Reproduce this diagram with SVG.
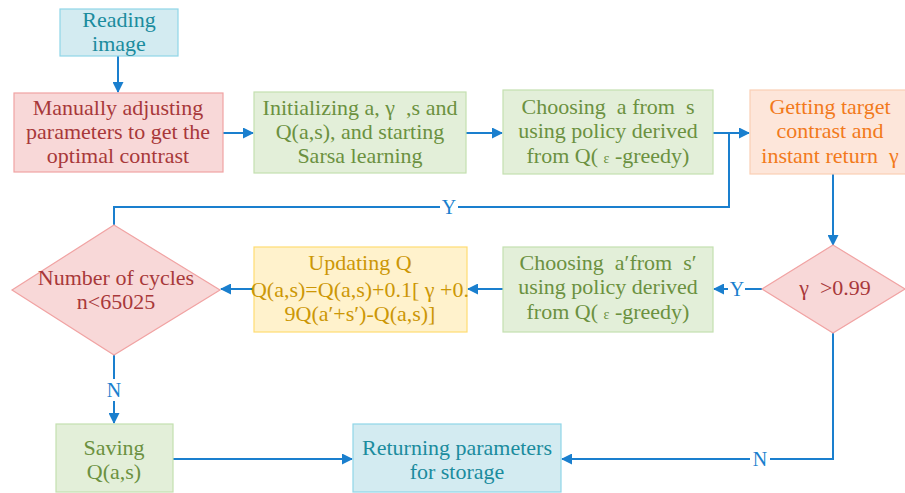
<svg xmlns="http://www.w3.org/2000/svg" id="dg" width="905" height="493" viewBox="0 0 905 493">
<defs>
<marker id="ah" markerWidth="11" markerHeight="11" refX="10" refY="5.5" orient="auto" markerUnits="userSpaceOnUse">
<path d="M0,0 L11,5.5 L0,11 Z" fill="#1a7fce"/>
</marker>
<style>
#dg text, #dg tspan{font-family:"Liberation Serif", serif !important}
#dg text{font-size:22px;text-anchor:middle}
#dg .lbl{fill:#1a7fce;font-size:20px}
#dg .sm{font-size:14px}
.conn path{fill:none;stroke:#1a7fce;stroke-width:2}
.cyan rect{fill:#d3ebf1;stroke:#8fd6e8;stroke-width:1.2}
.cyan text{fill:#1b8c9e}
.red rect,.red polygon{fill:#f8d8d8;stroke:#f1a3a3;stroke-width:1.2}
.red text{fill:#a8383a}
.green rect{fill:#e3efd9;stroke:#c4dfb0;stroke-width:1.2}
.green text{fill:#6b9140}
.orange rect{fill:#fde6da;stroke:#fbcfb5;stroke-width:1.2}
.orange text{fill:#f27a1c}
.yellow rect{fill:#fff2cc;stroke:#ffdc72;stroke-width:1.2}
.yellow text{fill:#cc9706}
</style>
</defs>
<rect width="905" height="493" fill="#ffffff"/>

<g class="conn">
<path d="M118,56 V92" marker-end="url(#ah)"/>
<path d="M223,133 H253" marker-end="url(#ah)"/>
<path d="M466,133 H502" marker-end="url(#ah)"/>
<path d="M713,133 H749" marker-end="url(#ah)"/>
<path d="M729,133 V207 H114 V225"/>
<path d="M833,174 V245" marker-end="url(#ah)"/>
<path d="M762,289 H745"/>
<path d="M728,289 H714" marker-end="url(#ah)"/>
<path d="M503,289 H468" marker-end="url(#ah)"/>
<path d="M254,289 H221" marker-end="url(#ah)"/>
<path d="M114,355 V379"/>
<path d="M114,401 V423" marker-end="url(#ah)"/>
<path d="M173,459 H352" marker-end="url(#ah)"/>
<path d="M833,333 V459 H770"/>
<path d="M750,459 H562" marker-end="url(#ah)"/>
<rect x="440" y="197" width="18" height="20" fill="#ffffff"/>
<text class="lbl" x="449" y="214" font-family="Liberation Serif">Y</text>
<text class="lbl" x="737" y="296" font-family="Liberation Serif">Y</text>
<text class="lbl" x="114" y="397" font-family="Liberation Serif">N</text>
<text class="lbl" x="760" y="466" font-family="Liberation Serif">N</text>
</g>

<g id="reading" class="cyan">
<rect x="60" y="9" width="118" height="47"/>
<text x="119" y="27" font-family="Liberation Serif">Reading</text>
<text x="119" y="51" font-family="Liberation Serif">image</text>
</g>

<g id="manual" class="red">
<rect x="14" y="93" width="209" height="79"/>
<text x="118" y="115" font-family="Liberation Serif">Manually adjusting</text>
<text x="118" y="139" font-family="Liberation Serif">parameters to get the</text>
<text x="118" y="163" font-family="Liberation Serif">optimal contrast</text>
</g>

<g id="init" class="green">
<rect x="254" y="92" width="212" height="81"/>
<text x="360" y="115" font-family="Liberation Serif" xml:space="preserve">Initializing a, γ  ,s and</text>
<text x="360" y="139" font-family="Liberation Serif">Q(a,s), and starting</text>
<text x="360" y="163" font-family="Liberation Serif">Sarsa learning</text>
</g>

<g id="choose1" class="green">
<rect x="503" y="90" width="210" height="84"/>
<text x="608" y="114" font-family="Liberation Serif" xml:space="preserve">Choosing  a from  s</text>
<text x="608" y="138" font-family="Liberation Serif">using policy derived</text>
<text x="608" y="163" font-family="Liberation Serif">from Q( <tspan class="sm">ε</tspan> -greedy)</text>
</g>

<g id="target" class="orange">
<rect x="750" y="90" width="160" height="84"/>
<text x="830" y="114" font-family="Liberation Serif">Getting target</text>
<text x="830" y="138" font-family="Liberation Serif">contrast and</text>
<text x="830" y="163" font-family="Liberation Serif" xml:space="preserve">instant return  γ</text>
</g>

<g id="check" class="red">
<polygon points="833,245 905,289 833,333 762,289"/>
<text x="835" y="295" font-family="Liberation Serif" xml:space="preserve">γ  &gt;0.99</text>
</g>

<g id="choose2" class="green">
<rect x="503" y="247" width="210" height="85"/>
<text x="608" y="270" font-family="Liberation Serif" xml:space="preserve">Choosing  a′from  s′</text>
<text x="608" y="294" font-family="Liberation Serif">using policy derived</text>
<text x="608" y="319" font-family="Liberation Serif">from Q( <tspan class="sm">ε</tspan> -greedy)</text>
</g>

<g id="update" class="yellow">
<rect x="254" y="247" width="213" height="85"/>
<text x="360" y="270" font-family="Liberation Serif">Updating Q</text>
<text x="360" y="297" font-family="Liberation Serif">Q(a,s)=Q(a,s)+0.1[ γ +0.</text>
<text x="360" y="321" font-family="Liberation Serif">9Q(a′+s′)-Q(a,s)]</text>
</g>

<g id="cycles" class="red">
<polygon points="114,225 220,290 114,355 12,290"/>
<text x="116" y="285" font-family="Liberation Serif">Number of cycles</text>
<text x="116" y="309" font-family="Liberation Serif">n&lt;65025</text>
</g>

<g id="saving" class="green">
<rect x="56" y="424" width="117" height="68"/>
<text x="114" y="455" font-family="Liberation Serif">Saving</text>
<text x="114" y="479" font-family="Liberation Serif">Q(a,s)</text>
</g>

<g id="returning" class="cyan">
<rect x="353" y="424" width="208" height="68"/>
<text x="457" y="455" font-family="Liberation Serif">Returning parameters</text>
<text x="457" y="479" font-family="Liberation Serif">for storage</text>
</g>
</svg>
